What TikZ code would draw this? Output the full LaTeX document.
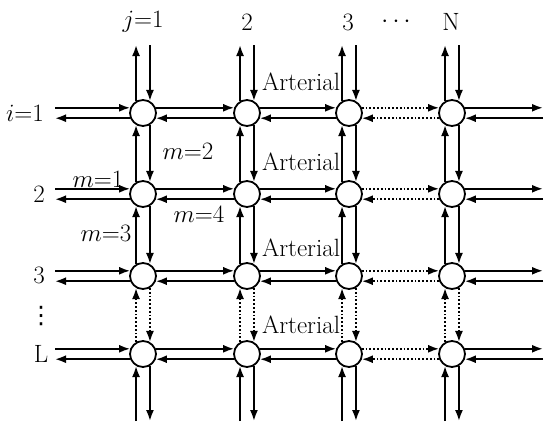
\documentclass[tikz,border=0pt]{standalone}
\usepackage{fontspec}
\usepackage{tikz}
\usetikzlibrary{arrows.meta}
\newfontfamily\dotsfont{DejaVu Sans}

\begin{document}
\begin{tikzpicture}[
    x=1pt, y=-1pt,
    junction/.style={circle, draw, line width=1.8pt, minimum size=26pt, inner sep=0pt, fill=white},
    flow/.style={line width=1.8pt, -{Latex[length=11pt,width=8pt]}},
    tag/.style={font=\fontsize{25}{29}\selectfont, inner sep=0pt}
]
    \useasboundingbox (0,0) rectangle (544,421);
    % intersections
    \foreach \c/\x in {1/143,2/247,3/349,4/452}
        \foreach \r/\y in {1/113,2/194,3/276,4/354}
            \node[junction] (n\r\c) at (\x,\y) {};
    % free ends of the outer links
    \coordinate (wedge) at (55,0);
    \coordinate (eedge) at (543,0);
    \coordinate (nedge) at (0,45);
    \coordinate (sedge) at (0,421);
    % links along the rows
    \foreach \r in {1,...,4}
        \foreach \c/\d/\s in {1/2/solid,2/3/solid,3/4/dotted}{
            \draw[flow,\s] (n\r\c.22) -- (n\r\d.158);
            \draw[flow,\s] (n\r\d.202) -- (n\r\c.338);
        }
    % links along the columns
    \foreach \c in {1,...,4}
        \foreach \r/\q/\s in {1/2/solid,2/3/solid,3/4/dotted}{
            \draw[flow,\s] (n\q\c.120) -- (n\r\c.240);
            \draw[flow,\s] (n\r\c.300) -- (n\q\c.60);
        }
    % outer links
    \foreach \r in {1,...,4}{
        \draw[flow] (wedge |- n\r1.158) -- (n\r1.158);
        \draw[flow] (n\r1.202) -- (wedge |- n\r1.202);
        \draw[flow] (n\r4.22) -- (eedge |- n\r4.22);
        \draw[flow] (eedge |- n\r4.338) -- (n\r4.338);
    }
    \foreach \c in {1,...,4}{
        \draw[flow] (n1\c.120) -- (n1\c.120 |- nedge);
        \draw[flow] (n1\c.60 |- nedge) -- (n1\c.60);
        \draw[flow] (n4\c.240 |- sedge) -- (n4\c.240);
        \draw[flow] (n4\c.300) -- (n4\c.300 |- sedge);
    }
    % column and row numbers
    \node[tag] (col1) at (143,22) {$j$=1};
    \node[tag] (col2) at (247,22) {2};
    \node[tag] (col3) at (348,22) {3};
    \node[tag] (coldots) at (396,22) {$\cdots$};
    \node[tag] (colN) at (451,22) {N};
    \node[tag] (row1) at (25,113) {$i$=1};
    \node[tag] (row2) at (39,194) {2};
    \node[tag] (row3) at (39,275) {3};
    \node[tag, font=\dotsfont\fontsize{24}{28}\selectfont] (rowdots) at (41,316) {⋮};
    \node[tag] (rowL) at (41,354) {L};
    % link numbers
    \node[tag] (m1) at (98,179) {$m$=1};
    \node[tag] (m2) at (188,151) {$m$=2};
    \node[tag] (m3) at (106,233) {$m$=3};
    \node[tag] (m4) at (199,214) {$m$=4};
    % arterial labels
    \foreach \y [count=\k] in {82,162,248,325}
        \node[tag] (art\k) at (301,\y) {Arterial};
\end{tikzpicture}
\end{document}
